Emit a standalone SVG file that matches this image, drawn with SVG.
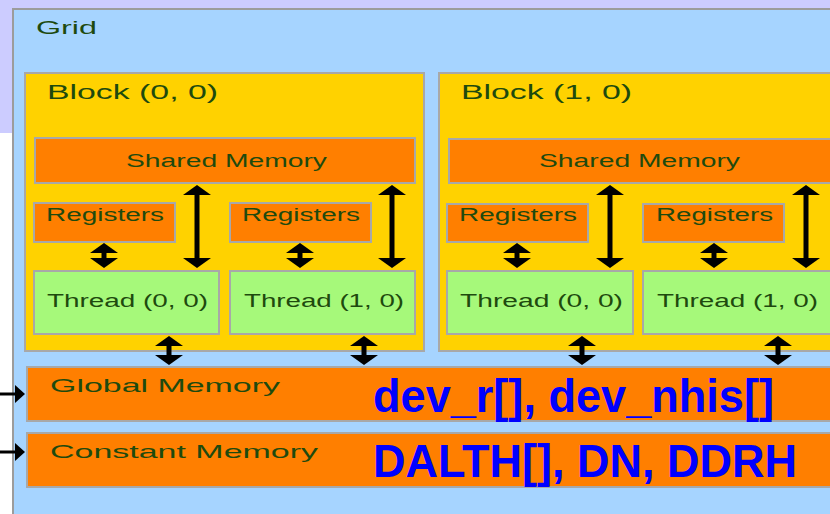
<svg xmlns="http://www.w3.org/2000/svg" width="830" height="514" viewBox="0 0 830 514">
  <defs>
    <style>
      .grid { fill: #a6d4ff; stroke: #9c9c9c; stroke-width: 2; }
      .block { fill: #ffd200; stroke: #a8a8a8; stroke-width: 2; }
      .mem { fill: #ff7f00; stroke: #a8a8a8; stroke-width: 2; }
      .thread { fill: #a6f97a; stroke: #a8a8a8; stroke-width: 2; }
      .lbl { font-family: "Liberation Sans", Arial, sans-serif; fill: #1e4a0e; }
      .var { font-family: "Liberation Sans", Arial, sans-serif; font-weight: bold; fill: #0000ff; font-size: 46px; }
      .arr { stroke: #000; stroke-width: 5; fill: none; }
      .harr { stroke: #000; stroke-width: 3; fill: none; }
    </style>
    <marker id="head" viewBox="0 0 10 10" refX="1" refY="5" markerWidth="10" markerHeight="28"
            markerUnits="userSpaceOnUse" orient="auto-start-reverse" preserveAspectRatio="none">
      <path d="M0,0 L10,5 L0,10 z" fill="#000"/>
    </marker>
    <marker id="head-small" viewBox="0 0 10 10" refX="1" refY="5" markerWidth="10" markerHeight="18"
            markerUnits="userSpaceOnUse" orient="auto" preserveAspectRatio="none">
      <path d="M0,0 L10,5 L0,10 z" fill="#000"/>
    </marker>
  </defs>

  <!-- page background -->
  <rect x="0" y="0" width="830" height="514" fill="#ffffff"/>
  <rect x="0" y="0" width="830" height="133" fill="#ccccff"/>

  <!-- grid -->
  <g id="grid">
    <rect class="grid" x="13" y="9" width="830" height="520"/>
    <text class="lbl" x="36" y="34" font-size="18" textLength="61" lengthAdjust="spacingAndGlyphs">Grid</text>
  </g>

  <!-- block (0, 0) -->
  <g id="block00">
    <rect class="block" x="25" y="73" width="399" height="278"/>
    <text class="lbl" x="47" y="99" font-size="20" textLength="171" lengthAdjust="spacingAndGlyphs">Block (0, 0)</text>
  </g>
  <g id="shared00">
    <rect class="mem" x="35" y="138" width="380" height="45"/>
    <text class="lbl" x="126" y="167" font-size="18" textLength="201" lengthAdjust="spacingAndGlyphs">Shared Memory</text>
  </g>
  <g id="reg00a">
    <rect class="mem" x="34" y="203" width="141" height="39"/>
    <text class="lbl" x="46" y="221" font-size="18" textLength="118" lengthAdjust="spacingAndGlyphs">Registers</text>
  </g>
  <g id="reg00b">
    <rect class="mem" x="230" y="203" width="141" height="39"/>
    <text class="lbl" x="242" y="221" font-size="18" textLength="118" lengthAdjust="spacingAndGlyphs">Registers</text>
  </g>
  <g id="thread00a">
    <rect class="thread" x="34" y="271" width="185" height="63"/>
    <text class="lbl" x="47" y="307" font-size="18" textLength="161" lengthAdjust="spacingAndGlyphs">Thread (0, 0)</text>
  </g>
  <g id="thread00b">
    <rect class="thread" x="230" y="271" width="185" height="63"/>
    <text class="lbl" x="244" y="307" font-size="18" textLength="160" lengthAdjust="spacingAndGlyphs">Thread (1, 0)</text>
  </g>

  <!-- block (1, 0) -->
  <g id="block10">
    <rect class="block" x="439" y="73" width="420" height="278"/>
    <text class="lbl" x="461" y="99" font-size="20" textLength="171" lengthAdjust="spacingAndGlyphs">Block (1, 0)</text>
  </g>
  <g id="shared10">
    <rect class="mem" x="449" y="139" width="400" height="44"/>
    <text class="lbl" x="539" y="167" font-size="18" textLength="201" lengthAdjust="spacingAndGlyphs">Shared Memory</text>
  </g>
  <g id="reg10a">
    <rect class="mem" x="447" y="204" width="141" height="38"/>
    <text class="lbl" x="459" y="221" font-size="18" textLength="118" lengthAdjust="spacingAndGlyphs">Registers</text>
  </g>
  <g id="reg10b">
    <rect class="mem" x="643" y="204" width="141" height="38"/>
    <text class="lbl" x="656" y="221" font-size="18" textLength="117" lengthAdjust="spacingAndGlyphs">Registers</text>
  </g>
  <g id="thread10a">
    <rect class="thread" x="447" y="271" width="186" height="63"/>
    <text class="lbl" x="460" y="307" font-size="18" textLength="163" lengthAdjust="spacingAndGlyphs">Thread (0, 0)</text>
  </g>
  <g id="thread10b">
    <rect class="thread" x="643" y="271" width="200" height="63"/>
    <text class="lbl" x="657" y="307" font-size="18" textLength="161" lengthAdjust="spacingAndGlyphs">Thread (1, 0)</text>
  </g>

  <!-- global and constant memory -->
  <g id="global">
    <rect class="mem" x="27" y="367" width="820" height="54"/>
    <text class="lbl" x="50" y="392" font-size="19" textLength="230" lengthAdjust="spacingAndGlyphs">Global Memory</text>
    <text class="var" x="373" y="412" textLength="401" lengthAdjust="spacingAndGlyphs">dev_r[], dev_nhis[]</text>
  </g>
  <g id="constant">
    <rect class="mem" x="27" y="433" width="820" height="54"/>
    <text class="lbl" x="50" y="458" font-size="19" textLength="268" lengthAdjust="spacingAndGlyphs">Constant Memory</text>
    <text class="var" x="373" y="477" textLength="424" lengthAdjust="spacingAndGlyphs">DALTH[], DN, DDRH</text>
  </g>

  <!-- connectors -->
  <g id="connectors" class="arr" marker-start="url(#head)" marker-end="url(#head)">
    <!-- registers <-> thread -->
    <line x1="104" y1="252" x2="104" y2="259"/>
    <line x1="300" y1="252" x2="300" y2="259"/>
    <line x1="517" y1="252" x2="517" y2="259"/>
    <line x1="714" y1="252" x2="714" y2="259"/>
    <!-- shared memory <-> thread -->
    <line x1="197" y1="194" x2="197" y2="259"/>
    <line x1="392" y1="194" x2="392" y2="259"/>
    <line x1="610" y1="194" x2="610" y2="259"/>
    <line x1="806" y1="194" x2="806" y2="259"/>
    <!-- thread <-> global memory -->
    <line x1="169" y1="345" x2="169" y2="356"/>
    <line x1="364" y1="345" x2="364" y2="356"/>
    <line x1="582" y1="345" x2="582" y2="356"/>
    <line x1="778" y1="345" x2="778" y2="356"/>
  </g>
  <g id="host-connectors" class="harr" marker-end="url(#head-small)">
    <line x1="0" y1="394" x2="16" y2="394"/>
    <line x1="0" y1="452" x2="16" y2="452"/>
  </g>
</svg>
